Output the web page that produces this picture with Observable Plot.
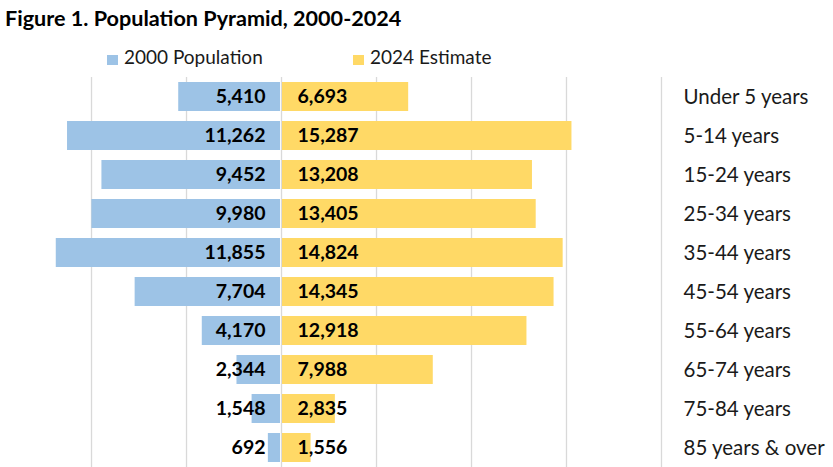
<!DOCTYPE html>
<html>
<head>
<meta charset="utf-8">
<script src="https://cdn.jsdelivr.net/npm/d3@7"></script>
<script src="https://cdn.jsdelivr.net/npm/@observablehq/plot@0.6"></script>
<style>
  html, body { margin: 0; padding: 0; background: #fff; }
  #wrap { position: relative; width: 833px; height: 467px; overflow: hidden; font-family: Lato, "Open Sans", sans-serif; color: #000; }
  #title { position: absolute; left: 5px; top: 5px; font-size: 21.6px; font-weight: 700; white-space: nowrap; }
  .leg { position: absolute; top: 45px; font-size: 19px; white-space: nowrap; color: #1a1a1a; }
  .sw { position: absolute; width: 11px; height: 10px; top: 55px; }
  #chart { position: absolute; left: 0; top: 77px; }
</style>
</head>
<body>
<div id="wrap">
  <div id="title">Figure 1. Population Pyramid, 2000-2024</div>
  <div class="sw" style="left:107px;background:#9DC3E6"></div>
  <div class="leg" style="left:124px">2000 Population</div>
  <div class="sw" style="left:353px;background:#FFD966"></div>
  <div class="leg" style="left:370px">2024 Estimate</div>
  <div id="chart"></div>
</div>
<script>
const categories = ["Under 5 years", "5-14 years", "15-24 years", "25-34 years", "35-44 years", "45-54 years", "55-64 years", "65-74 years", "75-84 years", "85 years & over"];
const pop2000 = [5410, 11262, 9452, 9980, 11855, 7704, 4170, 2344, 1548, 692];
const est2024 = [6693, 15287, 13208, 13405, 14824, 14345, 12918, 7988, 2835, 1556];
const gridTicks = [-10000, -5000, 0, 5000, 10000, 15000, 20000];

const rows = categories.map((c, i) => ({cat: c, a: pop2000[i], b: est2024[i]}));
const fmt = d3.format(",");

const chart = Plot.plot({
  width: 833,
  height: 390,
  marginLeft: 0,
  marginRight: 172,
  marginTop: 0,
  marginBottom: 0,
  style: {fontFamily: "Lato, 'Open Sans', sans-serif", background: "#fff"},
  x: {domain: [-14790, 20000], axis: null},
  y: {domain: categories, paddingInner: 0.25, paddingOuter: 0.125, axis: null},
  marks: [
    Plot.ruleX(gridTicks, {stroke: "#D9D9D9", strokeWidth: 1.3}),
    Plot.barX(rows, {y: "cat", x1: d => -d.a, x2: 0, fill: "#9DC3E6", insetRight: 1}),
    Plot.barX(rows, {y: "cat", x1: 0, x2: "b", fill: "#FFD966", insetLeft: 1}),
    Plot.text(rows, {y: "cat", x: 0, text: d => fmt(d.a), dx: -16, textAnchor: "end", fontWeight: 700, fontSize: 19.5, fill: "#000"}),
    Plot.text(rows, {y: "cat", x: 0, text: d => fmt(d.b), dx: 16, textAnchor: "start", fontWeight: 700, fontSize: 19.5, fill: "#000"}),
    Plot.axisY({anchor: "right", tickSize: 0, tickPadding: 22, fontSize: 20.5, textAnchor: "start", fill: "#1a1a1a", label: null})
  ]
});
document.getElementById("chart").appendChild(chart);
</script>
</body>
</html>
